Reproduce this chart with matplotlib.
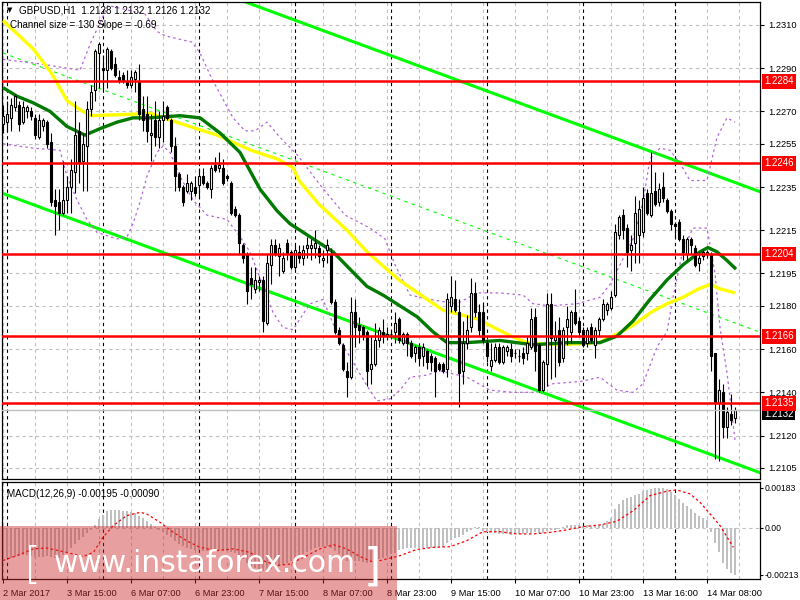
import numpy as np
import matplotlib
matplotlib.use('Agg')
import matplotlib.pyplot as plt
from matplotlib.patches import Rectangle
from matplotlib import font_manager

plt.rcParams['font.family'] = ['Liberation Sans', 'DejaVu Sans']

# ---- GBPUSD H1 candles (bar 0 = 2 Mar 23:00) ----
opens = [1.2264, 1.2265, 1.2267, 1.2272, 1.2273, 1.2265, 1.2270, 1.2270, 1.2267, 1.2258,
         1.2263, 1.2265, 1.2256, 1.2229, 1.2228, 1.2223, 1.2229, 1.2235, 1.2242, 1.2261,
         1.2247, 1.2254, 1.2271, 1.2280, 1.2297, 1.2290, 1.2289, 1.2298, 1.2292, 1.2286,
         1.2287, 1.2284, 1.2282, 1.2285, 1.2284, 1.2271, 1.2269, 1.2259, 1.2266, 1.2258,
         1.2266, 1.2272, 1.2266, 1.2254, 1.2241, 1.2235, 1.2233, 1.2233, 1.2235, 1.2236,
         1.2240, 1.2237, 1.2234, 1.2245, 1.2244, 1.2244, 1.2240, 1.2237, 1.2225, 1.2222,
         1.2208, 1.2204, 1.2193, 1.2188, 1.2191, 1.2192, 1.2172, 1.2199, 1.2208, 1.2203,
         1.2196, 1.2209, 1.2205, 1.2198, 1.2205, 1.2202, 1.2207, 1.2207, 1.2207, 1.2207,
         1.2201, 1.2206, 1.2204, 1.2182, 1.2169, 1.2162, 1.2150, 1.2147, 1.2177, 1.2171,
         1.2170, 1.2168, 1.2151, 1.2153, 1.2164, 1.2168, 1.2166, 1.2167, 1.2168, 1.2174,
         1.2163, 1.2167, 1.2163, 1.2158, 1.2161, 1.2157, 1.2159, 1.2157, 1.2156, 1.2153,
         1.2153, 1.2151, 1.2180, 1.2183, 1.2177, 1.2150, 1.2163, 1.2170, 1.2186, 1.2177,
         1.2177, 1.2163, 1.2152, 1.2155, 1.2161, 1.2154, 1.2159, 1.2160, 1.2158, 1.2157,
         1.2158, 1.2158, 1.2161, 1.2175, 1.2162, 1.2141, 1.2153, 1.2181, 1.2164, 1.2169,
         1.2156, 1.2170, 1.2168, 1.2177, 1.2173, 1.2169, 1.2163, 1.2170, 1.2162, 1.2169,
         1.2174, 1.2178, 1.2179, 1.2185, 1.2213, 1.2222, 1.2216, 1.2206, 1.2209, 1.2213,
         1.2214, 1.2232, 1.2222, 1.2233, 1.2228, 1.2235, 1.2229, 1.2224, 1.2218, 1.2219,
         1.2211, 1.2204, 1.2211, 1.2207, 1.2200, 1.2203, 1.2204, 1.2204, 1.2158, 1.2135,
         1.2140, 1.2124, 1.2130, 1.2128]
highs = [1.2273, 1.2275, 1.2276, 1.2278, 1.2275, 1.2275, 1.2273, 1.2272, 1.2269, 1.2269,
         1.2267, 1.2266, 1.2260, 1.2234, 1.2234, 1.2247, 1.2240, 1.2248, 1.2275, 1.2265,
         1.2260, 1.2275, 1.2282, 1.2299, 1.2302, 1.2296, 1.2300, 1.2299, 1.2295, 1.2289,
         1.2288, 1.2289, 1.2289, 1.2289, 1.2292, 1.2277, 1.2277, 1.2269, 1.2275, 1.2270,
         1.2275, 1.2273, 1.2267, 1.2258, 1.2242, 1.2236, 1.2241, 1.2238, 1.2240, 1.2244,
         1.2244, 1.2238, 1.2245, 1.2249, 1.2251, 1.2248, 1.2241, 1.2238, 1.2226, 1.2223,
         1.2209, 1.2205, 1.2198, 1.2198, 1.2194, 1.2194, 1.2204, 1.2211, 1.2211, 1.2209,
         1.2205, 1.2211, 1.2206, 1.2208, 1.2208, 1.2208, 1.2212, 1.2211, 1.2215, 1.2208,
         1.2206, 1.2211, 1.2207, 1.2183, 1.2170, 1.2163, 1.2154, 1.2184, 1.2183, 1.2175,
         1.2171, 1.2169, 1.2166, 1.2172, 1.2170, 1.2174, 1.2170, 1.2169, 1.2177, 1.2175,
         1.2168, 1.2168, 1.2164, 1.2162, 1.2163, 1.2163, 1.2160, 1.2158, 1.2157, 1.2154,
         1.2154, 1.2186, 1.2194, 1.2192, 1.2183, 1.2173, 1.2176, 1.2193, 1.2191, 1.2181,
         1.2182, 1.2164, 1.2163, 1.2163, 1.2163, 1.2162, 1.2162, 1.2163, 1.2160, 1.2160,
         1.2161, 1.2166, 1.2179, 1.2179, 1.2163, 1.2155, 1.2186, 1.2186, 1.2173, 1.2175,
         1.2170, 1.2180, 1.2178, 1.2188, 1.2175, 1.2170, 1.2170, 1.2172, 1.2170, 1.2175,
         1.2183, 1.2182, 1.2187, 1.2218, 1.2222, 1.2225, 1.2218, 1.2213, 1.2231, 1.2229,
         1.2235, 1.2234, 1.2251, 1.2242, 1.2237, 1.2242, 1.2230, 1.2225, 1.2219, 1.2220,
         1.2213, 1.2212, 1.2212, 1.2208, 1.2205, 1.2206, 1.2206, 1.2205, 1.2158, 1.2146,
         1.2144, 1.2133, 1.2139, 1.2133]
lows = [1.2260, 1.2261, 1.2261, 1.2270, 1.2261, 1.2264, 1.2267, 1.2266, 1.2257, 1.2257,
        1.2261, 1.2253, 1.2226, 1.2213, 1.2215, 1.2222, 1.2223, 1.2223, 1.2232, 1.2237,
        1.2233, 1.2233, 1.2268, 1.2275, 1.2281, 1.2280, 1.2281, 1.2289, 1.2286, 1.2283,
        1.2283, 1.2281, 1.2281, 1.2279, 1.2266, 1.2261, 1.2256, 1.2247, 1.2254, 1.2253,
        1.2256, 1.2266, 1.2251, 1.2233, 1.2233, 1.2226, 1.2232, 1.2229, 1.2231, 1.2230,
        1.2236, 1.2234, 1.2230, 1.2242, 1.2242, 1.2236, 1.2238, 1.2222, 1.2221, 1.2204,
        1.2200, 1.2181, 1.2183, 1.2186, 1.2187, 1.2168, 1.2171, 1.2190, 1.2203, 1.2194,
        1.2195, 1.2201, 1.2197, 1.2197, 1.2200, 1.2199, 1.2202, 1.2201, 1.2202, 1.2200,
        1.2198, 1.2200, 1.2181, 1.2167, 1.2162, 1.2150, 1.2138, 1.2146, 1.2161, 1.2163,
        1.2164, 1.2143, 1.2144, 1.2152, 1.2161, 1.2163, 1.2164, 1.2165, 1.2163, 1.2163,
        1.2162, 1.2157, 1.2156, 1.2154, 1.2152, 1.2152, 1.2151, 1.2150, 1.2138, 1.2150,
        1.2149, 1.2147, 1.2177, 1.2177, 1.2133, 1.2144, 1.2160, 1.2168, 1.2175, 1.2166,
        1.2163, 1.2154, 1.2150, 1.2154, 1.2153, 1.2153, 1.2157, 1.2154, 1.2156, 1.2154,
        1.2153, 1.2155, 1.2160, 1.2150, 1.2140, 1.2140, 1.2143, 1.2146, 1.2147, 1.2152,
        1.2154, 1.2162, 1.2163, 1.2171, 1.2166, 1.2161, 1.2161, 1.2163, 1.2156, 1.2166,
        1.2173, 1.2176, 1.2178, 1.2184, 1.2211, 1.2211, 1.2198, 1.2196, 1.2200, 1.2200,
        1.2212, 1.2222, 1.2221, 1.2226, 1.2226, 1.2228, 1.2223, 1.2215, 1.2212, 1.2210,
        1.2201, 1.2201, 1.2204, 1.2198, 1.2196, 1.2201, 1.2202, 1.2150, 1.2109, 1.2108,
        1.2119, 1.2119, 1.2125, 1.2126]
closes = [1.2268, 1.2269, 1.2273, 1.2277, 1.2264, 1.2272, 1.2272, 1.2268, 1.2259, 1.2266,
          1.2266, 1.2255, 1.2228, 1.2226, 1.2223, 1.2229, 1.2235, 1.2243, 1.2259, 1.2246,
          1.2255, 1.2271, 1.2279, 1.2298, 1.2301, 1.2289, 1.2299, 1.2290, 1.2287, 1.2284,
          1.2284, 1.2282, 1.2286, 1.2288, 1.2269, 1.2266, 1.2261, 1.2260, 1.2258, 1.2266,
          1.2268, 1.2267, 1.2254, 1.2240, 1.2235, 1.2228, 1.2237, 1.2237, 1.2232, 1.2240,
          1.2237, 1.2235, 1.2244, 1.2243, 1.2245, 1.2237, 1.2239, 1.2223, 1.2222, 1.2209,
          1.2202, 1.2187, 1.2190, 1.2192, 1.2192, 1.2173, 1.2200, 1.2208, 1.2204, 1.2207,
          1.2202, 1.2204, 1.2198, 1.2206, 1.2202, 1.2206, 1.2208, 1.2208, 1.2209, 1.2203,
          1.2202, 1.2208, 1.2182, 1.2168, 1.2163, 1.2151, 1.2147, 1.2177, 1.2170, 1.2169,
          1.2166, 1.2150, 1.2153, 1.2164, 1.2169, 1.2166, 1.2167, 1.2167, 1.2172, 1.2164,
          1.2167, 1.2163, 1.2157, 1.2161, 1.2156, 1.2161, 1.2154, 1.2154, 1.2150, 1.2151,
          1.2150, 1.2183, 1.2184, 1.2178, 1.2149, 1.2163, 1.2169, 1.2186, 1.2177, 1.2169,
          1.2164, 1.2157, 1.2155, 1.2161, 1.2154, 1.2161, 1.2161, 1.2157, 1.2158, 1.2157,
          1.2156, 1.2163, 1.2174, 1.2159, 1.2141, 1.2154, 1.2181, 1.2165, 1.2166, 1.2154,
          1.2169, 1.2174, 1.2177, 1.2172, 1.2168, 1.2162, 1.2169, 1.2164, 1.2169, 1.2174,
          1.2181, 1.2181, 1.2184, 1.2214, 1.2221, 1.2215, 1.2205, 1.2208, 1.2223, 1.2225,
          1.2230, 1.2223, 1.2232, 1.2227, 1.2234, 1.2230, 1.2224, 1.2218, 1.2217, 1.2211,
          1.2205, 1.2211, 1.2208, 1.2199, 1.2202, 1.2205, 1.2205, 1.2157, 1.2135, 1.2141,
          1.2124, 1.2131, 1.2127, 1.2132]

# moving averages (bar, price)
slow_ma_bars = [0, 7.5, 12, 16, 19, 22, 37, 45, 53.5, 62, 68.5, 72.5, 74, 79, 86, 91, 99, 110,
                118.5, 127, 131, 139, 149, 153.5, 157.5, 162, 166, 170, 174, 177, 179, 183]
slow_ma = [1.2312, 1.2299, 1.2288, 1.2275, 1.2271, 1.2268, 1.2269, 1.2264, 1.2259, 1.2252,
           1.2248, 1.2244, 1.2238, 1.2227, 1.2215, 1.2205, 1.2192, 1.2178, 1.2174, 1.2166,
           1.2163, 1.2162, 1.2163, 1.2167, 1.2171, 1.2177, 1.2181, 1.2184, 1.2188, 1.2190,
           1.2188, 1.2186]
fast_ma_bars = [0, 3.5, 7.5, 11.75, 16, 20.5, 24.25, 28.5, 32.5, 36.75, 44.25, 49.25, 54.25,
                59.25, 64.25, 68.5, 71.75, 74.25, 82.5, 86.75, 91, 95, 99.25, 103.5, 107.5, 111,
                116, 124.25, 132.5, 141, 149.25, 153.5, 157.5, 161.75, 166, 170, 174.25, 176.25,
                178.5, 181, 183.25]
fast_ma = [1.2281, 1.2277, 1.2274, 1.2270, 1.2263, 1.2259, 1.2262, 1.2265, 1.2267, 1.2267,
           1.2268, 1.2267, 1.2260, 1.2251, 1.2234, 1.2224, 1.2218, 1.2215, 1.2205, 1.2197,
           1.2189, 1.2185, 1.2180, 1.2175, 1.2168, 1.2163, 1.2163, 1.2164, 1.2162, 1.2163,
           1.2163, 1.2166, 1.2173, 1.2183, 1.2192, 1.2199, 1.2205, 1.2207, 1.2205, 1.2201,
           1.2197]

# bands (dotted purple)
upper_bars = [0, 9.25, 19.25, 21.75, 24.25, 26.25, 35.5, 38.5, 40.5, 47.25, 49.25, 52.25, 57.5,
              60.5, 63, 66, 69.25, 73.5, 79.25, 85.5, 91.75, 95.5, 98, 101.75, 106.75, 113.5,
              118.5, 124.25, 130, 132.5, 136.75, 143.5, 149.25, 151.75, 154.25, 157.5, 160,
              161.75, 164.25, 166.75, 169.25, 171.75, 176, 177.25, 178.5, 181, 183]
upper_band = [1.2294, 1.2292, 1.2289, 1.2301, 1.2311, 1.2319, 1.2315, 1.2307, 1.2305, 1.2302,
              1.2297, 1.2285, 1.2267, 1.2261, 1.2261, 1.2265, 1.2258, 1.2250, 1.2236, 1.2222,
              1.2216, 1.2211, 1.2199, 1.2185, 1.2183, 1.2181, 1.2186, 1.2186, 1.2185, 1.2181,
              1.2180, 1.2181, 1.2184, 1.2190, 1.2199, 1.2211, 1.2228, 1.2248, 1.2253, 1.2252,
              1.2246, 1.2238, 1.2238, 1.2248, 1.2258, 1.2267, 1.2265]
lower_bars = [0, 7.5, 14.25, 16, 18.5, 21, 23.5, 28.5, 31, 32.5, 34.25, 36, 38.5, 40, 41.75,
              44.25, 47.5, 51, 56, 59.25, 61.75, 64.25, 67.5, 70, 72.5, 74.25, 76.75, 80, 84.25,
              87.5, 91, 93.5, 96.75, 99.25, 101.75, 106, 109.25, 116, 121.75, 127.5, 132.5,
              137.5, 144.25, 149.25, 153.5, 157.5, 160, 163.5, 166, 167.5, 170, 172.5, 176,
              178, 179.25, 181, 183]
lower_band = [1.2255, 1.2253, 1.2252, 1.2240, 1.2229, 1.2220, 1.2214, 1.2211, 1.2212, 1.2218,
              1.2228, 1.2240, 1.2251, 1.2254, 1.2251, 1.2240, 1.2229, 1.2222, 1.2220, 1.2212,
              1.2205, 1.2193, 1.2177, 1.2170, 1.2169, 1.2174, 1.2181, 1.2183, 1.2164, 1.2154,
              1.2143, 1.2136, 1.2137, 1.2141, 1.2147, 1.2148, 1.2150, 1.2147, 1.2141, 1.2140,
              1.2140, 1.2144, 1.2145, 1.2147, 1.2141, 1.2140, 1.2144, 1.2161, 1.2168, 1.2184,
              1.2206, 1.2216, 1.2216, 1.2195, 1.2170, 1.2149, 1.2118]

# regression channel
chan_bars = [0, 189]
chan_lower = [1.2232, 1.2103]
chan_size = 0.0130

levels = [1.2284, 1.2246, 1.2204, 1.2166, 1.2135]
bid = 1.2132
price_ticks = [1.2310, 1.2290, 1.2270, 1.2255, 1.2235, 1.2215, 1.2195, 1.2180, 1.2160,
               1.2140, 1.2120, 1.2105]

# MACD main (histogram) and signal
macd = [-0.00140, -0.00138, -0.00135, -0.00130, -0.00128, -0.00125, -0.00125, -0.00128, -0.00130, -0.00132,
        -0.00130, -0.00128, -0.00132, -0.00138, -0.00135, -0.00125, -0.00110, -0.00092, -0.00072, -0.00055,
        -0.00040, -0.00025, -0.00008, 0.00012, 0.00040, 0.00060, 0.00078, 0.00082, 0.00082, 0.00080,
        0.00078, 0.00075, 0.00072, 0.00066, 0.00055, 0.00045, 0.00032, 0.00020, 0.00006, -0.00010,
        -0.00020, -0.00030, -0.00042, -0.00058, -0.00072, -0.00082, -0.00090, -0.00096, -0.00100, -0.00102,
        -0.00105, -0.00106, -0.00104, -0.00102, -0.00103, -0.00104, -0.00106, -0.00110, -0.00114, -0.00125,
        -0.00140, -0.00160, -0.00172, -0.00180, -0.00188, -0.00195, -0.00192, -0.00185, -0.00180, -0.00175,
        -0.00168, -0.00160, -0.00150, -0.00140, -0.00130, -0.00120, -0.00110, -0.00100, -0.00092, -0.00088,
        -0.00085, -0.00082, -0.00090, -0.00105, -0.00120, -0.00135, -0.00148, -0.00150, -0.00150, -0.00152,
        -0.00155, -0.00158, -0.00155, -0.00150, -0.00142, -0.00135, -0.00128, -0.00120, -0.00112, -0.00100,
        -0.00095, -0.00092, -0.00092, -0.00090, -0.00090, -0.00090, -0.00090, -0.00092, -0.00090, -0.00088,
        -0.00085, -0.00070, -0.00055, -0.00045, -0.00040, -0.00030, -0.00020, -0.00008, 0.00003, 0.00005,
        -0.00012, -0.00018, -0.00022, -0.00025, -0.00027, -0.00027, -0.00028, -0.00030, -0.00028, -0.00027,
        -0.00027, -0.00025, -0.00022, -0.00020, -0.00025, -0.00022, -0.00012, -0.00010, -0.00008, -0.00005,
        0.00005, 0.00012, 0.00015, 0.00015, 0.00012, 0.00010, 0.00012, 0.00010, 0.00010, 0.00015,
        0.00020, 0.00030, 0.00045, 0.00085, 0.00110, 0.00125, 0.00135, 0.00142, 0.00148, 0.00155,
        0.00170, 0.00174, 0.00178, 0.00181, 0.00183, 0.00180, 0.00175, 0.00162, 0.00148, 0.00132,
        0.00115, 0.00100, 0.00085, 0.00070, 0.00055, 0.00045, 0.00035, -0.00020, -0.00070, -0.00110,
        -0.00160, -0.00185, -0.00205, -0.00213]
signal_bars = [0, 3.4, 7.6, 10.9, 15.9, 20, 22.6, 25, 27.6, 30.9, 34.25, 35.9, 39.25, 42.6, 45.9,
               49.25, 53.4, 57.6, 61.75, 65, 68.4, 71.75, 75.9, 79.25, 82.6, 85.9, 89.25, 92.6,
               95.9, 99.25, 103.4, 107.6, 111.75, 115.9, 120, 124.25, 128.4, 132.6, 136.75,
               140.9, 145, 149.25, 153.4, 157.6, 161.75, 165.9, 168.4, 171.75, 174.25, 176.75,
               179.25, 182.6]
signal = [-0.00148, -0.00126, -0.00095, -0.00091, -0.00111, -0.00130, -0.00111, -0.00042, 0.00011,
          0.00056, 0.00071, 0.00064, 0.00026, -0.00020, -0.00058, -0.00088, -0.00103, -0.00095,
          -0.00111, -0.00148, -0.00171, -0.00164, -0.00126, -0.00095, -0.00076, -0.00095, -0.00130,
          -0.00156, -0.00141, -0.00126, -0.00098, -0.00088, -0.00085, -0.00058, -0.00017, -0.00017,
          -0.00027, -0.00027, -0.00020, -0.00009, 0.00006, 0.00014, 0.00030, 0.00079, 0.00147,
          0.00167, 0.00173, 0.00155, 0.00117, 0.00064, 0.00011, -0.00088]

day_starts = [1, 25, 49, 73, 97, 121, 145, 168]
date_ticks = [0, 16, 32, 48, 64, 80, 96, 112, 128, 144, 160, 176]
date_labels = ['2 Mar 2017', '3 Mar 15:00', '6 Mar 07:00', '6 Mar 23:00', '7 Mar 15:00',
               '8 Mar 07:00', '8 Mar 23:00', '9 Mar 15:00', '10 Mar 07:00', '10 Mar 23:00',
               '13 Mar 16:00', '14 Mar 08:00']

opens = np.array(opens)
closes = np.array(closes)
highs = np.maximum(np.array(highs), np.maximum(opens, closes))
lows = np.minimum(np.array(lows), np.minimum(opens, closes))
x = np.arange(len(closes))
xlim = (-0.25, 189.25)
fs = 6.7

fig = plt.figure(figsize=(8, 6), dpi=100)
ax = fig.add_axes([2 / 800, 121 / 600, 758 / 800, 477 / 600])
mx = fig.add_axes([2 / 800, 21 / 600, 758 / 800, 97 / 600])

grid_kw = dict(color='#c0c0c0', lw=0.8, ls=(0, (3, 3)), zorder=0)
sep_kw = dict(color='black', lw=0.8, ls=(0, (3, 3)), zorder=1)
for a in (ax, mx):
    for g in range(0, 190, 8):
        a.axvline(g, **grid_kw)
    for d in day_starts:
        a.axvline(d, **sep_kw)
    a.set_xlim(*xlim)
    for s in a.spines.values():
        s.set_linewidth(0.9)

for p in price_ticks:
    ax.axhline(p, **grid_kw)

# channel
cb = np.array(chan_bars)
cl = np.array(chan_lower)
ax.plot(cb, cl, color='#00ff00', lw=2.2, zorder=2)
ax.plot(cb, cl + chan_size, color='#00ff00', lw=2.2, zorder=2)
ax.plot(cb, cl + chan_size / 2, color='#00ff00', lw=0.8, ls=(0, (3, 4)), zorder=2)

# bands and MAs
band_kw = dict(color='#b366d9', lw=0.9, ls=(0, (2, 2.5)), zorder=2)
ax.plot(upper_bars, upper_band, **band_kw)
ax.plot(lower_bars, lower_band, **band_kw)
ax.plot(slow_ma_bars, slow_ma, color='#ffff00', lw=2.4, zorder=3, solid_capstyle='butt')
ax.plot(fast_ma_bars, fast_ma, color='#007a00', lw=2.4, zorder=3, solid_capstyle='butt')

# candles
up = closes >= opens
ax.vlines(x, lows, highs, color='black', lw=0.8, zorder=4)
ax.bar(x[up], (closes - opens)[up], bottom=opens[up], width=0.62, color='white',
       edgecolor='black', lw=0.8, zorder=5)
ax.bar(x[~up], (opens - closes)[~up], bottom=closes[~up], width=0.62, color='black',
       edgecolor='black', lw=0.8, zorder=5)

# support / resistance levels
for lv in levels:
    ax.axhline(lv, color='#ff0000', lw=1.8, zorder=6)
    ax.annotate(f'{lv:.4f}', xy=(1, lv), xycoords=ax.get_yaxis_transform(),
                xytext=(4, 0), textcoords='offset pixels', ha='left', va='center',
                color='white', fontsize=fs + 0.3, zorder=10, annotation_clip=False,
                bbox=dict(boxstyle='square,pad=0.25', fc='#ff0000', ec='none'))
ax.axhline(bid, color='#c0c0c0', lw=1, zorder=6)
ax.annotate(f'{bid:.4f}', xy=(1, bid - 0.00018), xycoords=ax.get_yaxis_transform(),
            xytext=(4, 0), textcoords='offset pixels', ha='left', va='center',
            color='white', fontsize=fs + 0.3, zorder=9, annotation_clip=False,
            bbox=dict(boxstyle='square,pad=0.2', fc='black', ec='none'))

ax.set_ylim(1.20999, 1.23206)
ax.yaxis.tick_right()
ax.set_yticks(price_ticks)
ax.set_yticklabels([f'{p:.4f}' for p in price_ticks])
ax.tick_params(axis='y', length=3, width=0.8, pad=3, labelsize=fs)
ax.tick_params(axis='x', length=0, labelbottom=False)

ax.text(0.006, 0.99, '▼', transform=ax.transAxes, fontsize=5, va='top', ha='left',
        family=['DejaVu Sans'])
ax.text(0.022, 0.992, 'GBPUSD,H1  1.2128 1.2132 1.2126 1.2132', transform=ax.transAxes,
        fontsize=fs + 0.4, va='top', ha='left')
ax.text(0.011, 0.962, 'Channel size = 130 Slope = -0.69', transform=ax.transAxes,
        fontsize=fs + 0.4, va='top', ha='left')

# MACD panel
mx.bar(x, macd, width=0.7, color='#c0c0c0', zorder=2)
mx.axhline(0, color='#c0c0c0', lw=0.8, ls=(0, (3, 3)), zorder=1)
mx.plot(signal_bars, signal, color='#ff0000', lw=0.9, ls=(0, (2, 2)), zorder=3)
mx.set_ylim(-0.00232, 0.00209)
mx.yaxis.tick_right()
mx.set_yticks([0.00183, 0.0, -0.00213])
mx.set_yticklabels(['0.00183', '0.00', '-0.00213'])
mx.tick_params(axis='y', length=2, width=0.8, pad=1, labelsize=6.2)
mx.set_xticks(date_ticks)
mx.set_xticklabels(date_labels)
mx.tick_params(axis='x', length=3, width=0.8, pad=4, labelsize=fs)
for lbl in mx.get_xticklabels():
    lbl.set_ha('left')
mx.text(0.006, 0.93, 'MACD(12,26,9) -0.00195 -0.00090', transform=mx.transAxes,
        fontsize=fs + 0.4, va='top', ha='left')

# watermark banner
installed = {f.name for f in font_manager.fontManager.ttflist}
if 'Liberation Sans Narrow' in installed:
    wm_family, wm_size = ['Liberation Sans Narrow'], 29
else:
    wm_family, wm_size = ['DejaVu Sans'], 21.5
fig.add_artist(Rectangle((0, 0), 397 / 800, 74 / 600, transform=fig.transFigure,
                         facecolor=(0.80, 0.17, 0.17), alpha=0.45, edgecolor='none', zorder=20))
fig.text(24 / 800, 33 / 600, '[', color='white', fontsize=32, ha='left', va='center',
         family=['DejaVu Sans'], fontweight='light', zorder=21)
fig.text(205 / 800, 36 / 600, 'www.instaforex.com', color='white', fontsize=wm_size,
         ha='center', va='center', family=wm_family, zorder=21)
fig.text(364 / 800, 33 / 600, ']', color='white', fontsize=32, ha='left', va='center',
         family=['DejaVu Sans'], zorder=21)

fig.savefig('out.png', dpi=100)
